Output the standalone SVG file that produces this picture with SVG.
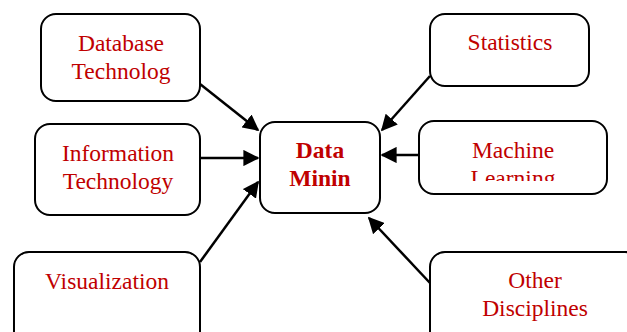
<svg xmlns="http://www.w3.org/2000/svg" width="627" height="332" viewBox="0 0 627 332">
<style>
.box{fill:#fff;stroke:#000;stroke-width:2}
.t{font-family:"Liberation Serif","Times New Roman",serif;font-size:23.5px;fill:#c00000;text-anchor:middle}
.b{font-weight:bold}
.c{stroke:#000;stroke-width:2.5;fill:none;marker-end:url(#ah)}
</style>
<defs>
<marker id="ah" viewBox="0 0 10 10" refX="9" refY="5" markerWidth="6.5" markerHeight="6.5" orient="auto" markerUnits="strokeWidth">
<path d="M0,0 L10,5 L0,10 z" fill="#000"/>
</marker>
<clipPath id="mlclip"><rect x="419" y="121" width="190" height="60"/></clipPath>
</defs>
<rect width="627" height="332" fill="#fff"/>
<g id="connectors">
<line class="c" x1="200" y1="84" x2="258" y2="130"/>
<line class="c" x1="200" y1="158" x2="258" y2="158"/>
<line class="c" x1="200" y1="262" x2="258" y2="182"/>
<line class="c" x1="430" y1="76" x2="382" y2="130"/>
<line class="c" x1="419" y1="155" x2="382" y2="155"/>
<line class="c" x1="430" y1="283" x2="369" y2="218"/>
</g>
<g id="database">
<rect class="box" x="41" y="14" width="159" height="87" rx="15"/>
<text class="t" x="121" y="51">Database</text>
<text class="t" x="121" y="79">Technolog</text>
</g>
<g id="infotech">
<rect class="box" x="35" y="124" width="165" height="91" rx="15"/>
<text class="t" x="118" y="161">Information</text>
<text class="t" x="118" y="189">Technology</text>
</g>
<g id="visualization">
<rect class="box" x="14" y="252" width="186" height="95" rx="15"/>
<text class="t" x="107" y="289">Visualization</text>
</g>
<g id="datamining">
<rect class="box" x="260" y="122" width="120" height="91" rx="15"/>
<text class="t b" x="320" y="158">Data</text>
<text class="t b" x="320" y="186">Minin</text>
</g>
<g id="statistics">
<rect class="box" x="430" y="14" width="159" height="72" rx="15"/>
<text class="t" x="510" y="50">Statistics</text>
</g>
<g id="machinelearning">
<rect class="box" x="419" y="121" width="188" height="73" rx="15"/>
<text class="t" x="513" y="158">Machine</text>
<text class="t" x="513" y="186" clip-path="url(#mlclip)">Learning</text>
</g>
<g id="other">
<rect class="box" x="430" y="252" width="210" height="95" rx="15"/>
<text class="t" x="535" y="288">Other</text>
<text class="t" x="535" y="316">Disciplines</text>
</g>
</svg>
